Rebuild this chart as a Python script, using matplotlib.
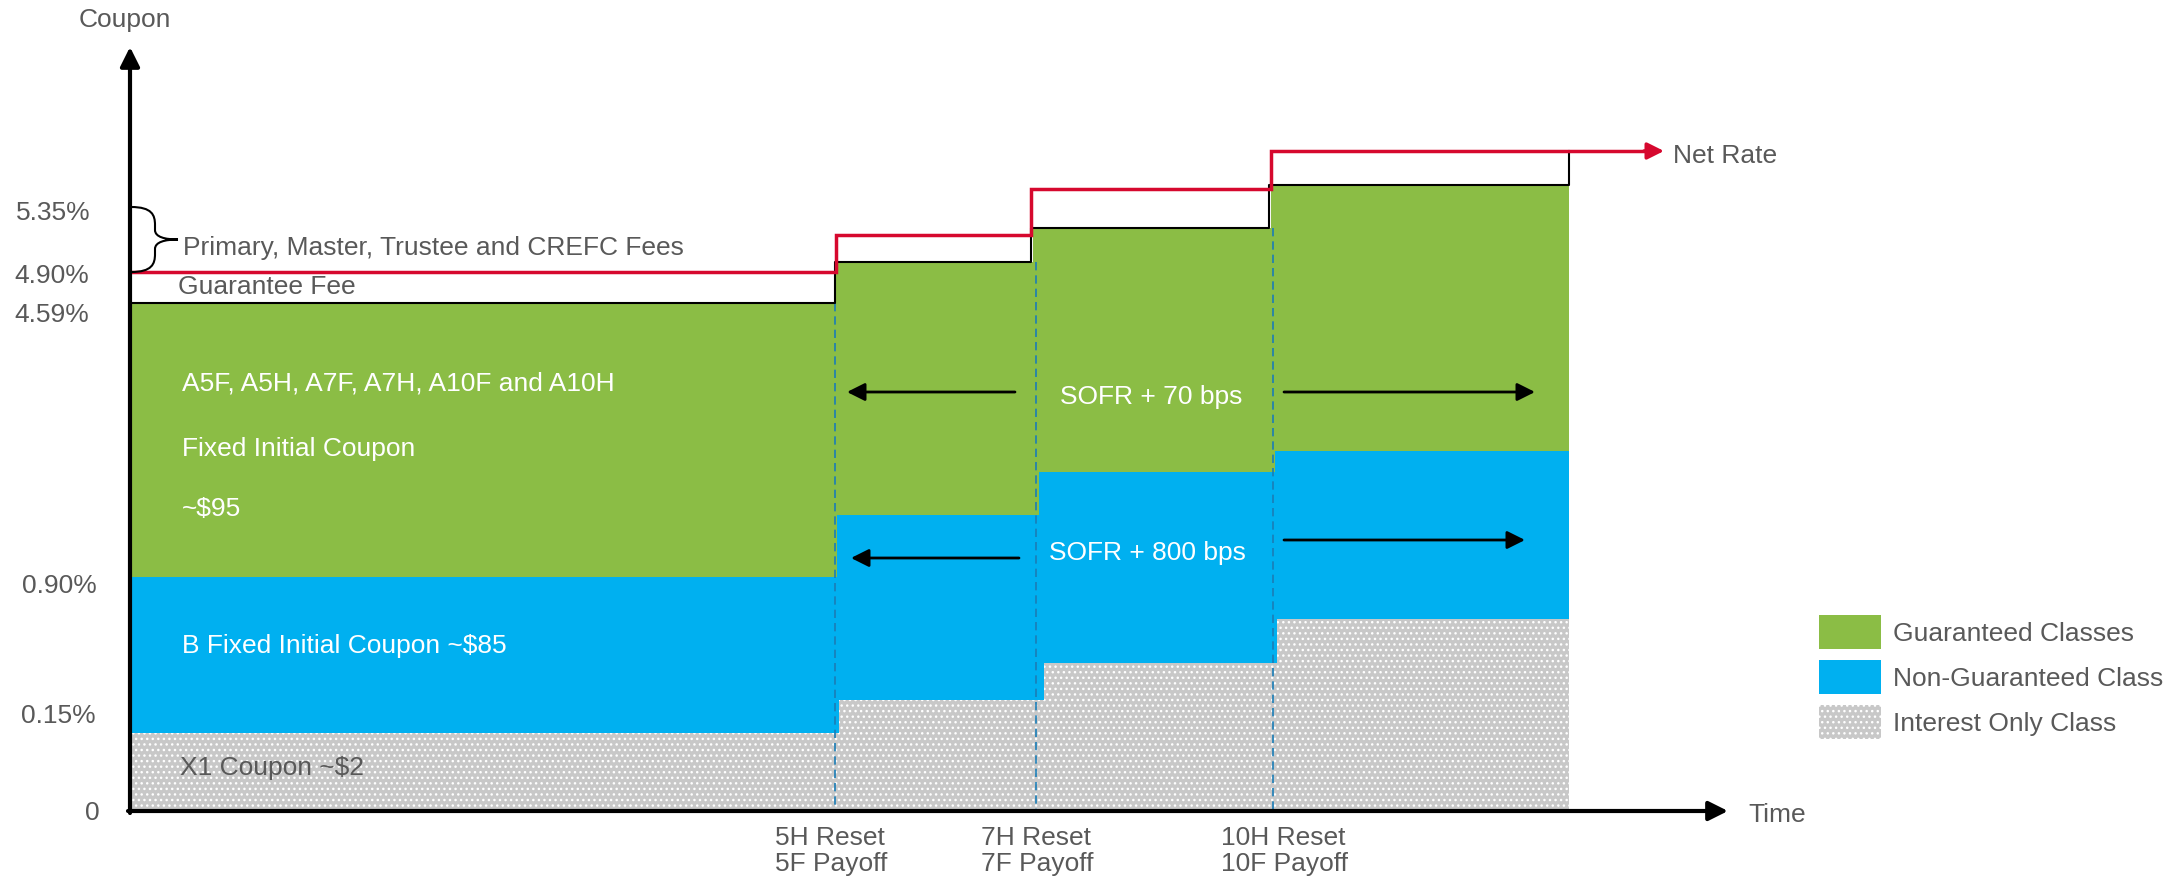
import numpy as np
import matplotlib.pyplot as plt
from matplotlib.path import Path
from matplotlib.patches import PathPatch

plt.rcParams['font.family'] = ['Liberation Sans', 'DejaVu Sans']
plt.rcParams['hatch.linewidth'] = 1.0

GREEN = '#8BBD45'
BLUE = '#00B0F0'
RED = '#D6082E'
TXT = '#595959'

# diagram units = pixels of the slide, y measured downward
axis_x = 130
axis_y = 811

# coupon stack per period: edges along time axis and top of each layer
green_x = [130, 836, 1033, 1271, 1569]
green_top = [302.5, 262, 228, 185]
blue_x = [130, 837, 1039, 1275, 1569]
blue_top = [577, 515, 472, 451]
grey_x = [130, 839, 1044, 1277, 1569]
grey_top = [733, 700, 663, 619]

# gross coupon outline and net rate line
gross_x = [130, 835, 1031, 1269, 1569]
net_x = [130, 836, 1031, 1271, 1664]
net_rate = [272, 235, 189, 151]

reset_x = [835, 1036, 1273]
reset_labels = ['5H Reset\n5F Payoff', '7H Reset\n7F Payoff', '10H Reset\n10F Payoff']
reset_text_x = [775, 981, 1221]

tick_labels = ['5.35%', '4.90%', '4.59%', '0.90%', '0.15%', '0']
tick_y = [213, 276, 315, 586, 716, 813]
tick_x = [53, 51.5, 51.5, 59.5, 58, 92.5]

fig = plt.figure(figsize=(21.82, 8.84), dpi=100)
ax = fig.add_axes([0, 0, 1, 1])
ax.set_xlim(0, 2182)
ax.set_ylim(884, 0)
ax.axis('off')


def stack(edges, tops, **kw):
    edges = np.asarray(edges, float)
    tops = np.asarray(tops, float)
    return ax.bar(edges[:-1], axis_y - tops, width=np.diff(edges), bottom=tops,
                  align='edge', linewidth=0, zorder=1, **kw)


g_bars = stack(green_x, green_top, color=GREEN, label='Guaranteed Classes')
b_bars = stack(blue_x, blue_top, color=BLUE, label='Non-Guaranteed Class')
x_bars = stack(grey_x, grey_top, facecolor='#c8c8c8', edgecolor='white', hatch='...',
               label='Interest Only Class')

# dashed reset markers
ax.vlines(reset_x, green_top[:-1], axis_y, colors='#1B7DB6', linewidth=1.2,
          linestyles=(0, (5, 3)), zorder=3)

# gross coupon outline (black)
ox = list(np.repeat(gross_x, 2)[1:-1]) + [gross_x[-1]]
oy = list(np.repeat(green_top, 2)) + [net_rate[-1]]
ax.plot(ox, oy, color='black', lw=1.5, zorder=4)

# net rate (red) with arrow
rx = np.repeat(net_x, 2)[1:-1].astype(float)
ry = np.repeat(net_rate, 2)
rx[-1] = net_x[-1] - 12
ax.plot(rx, ry, color=RED, lw=2.5, zorder=5, solid_joinstyle='miter')
ax.annotate('', xy=(net_x[-1], net_rate[-1]), xytext=(net_x[-1] - 20, net_rate[-1]),
            arrowprops=dict(arrowstyle='-|>', color=RED, lw=2.5, mutation_scale=25,
                            shrinkA=0, shrinkB=0), zorder=5)

# axes with arrows
ax.annotate('', xy=(axis_x, 47), xytext=(axis_x, axis_y + 2),
            arrowprops=dict(arrowstyle='-|>', color='black', lw=3, mutation_scale=29,
                            shrinkA=0, shrinkB=0), zorder=6)
ax.annotate('', xy=(1728, axis_y), xytext=(axis_x - 2, axis_y),
            arrowprops=dict(arrowstyle='-|>', color='black', lw=3, mutation_scale=29,
                            shrinkA=0, shrinkB=0), zorder=6)

# spread arrows
arrows = [((1015, 392), (847, 392)), ((1284, 392), (1535, 392)),
          ((1019, 558), (851, 558)), ((1284, 540), (1525, 540))]
for tail, tip in arrows:
    ax.annotate('', xy=tip, xytext=tail,
                arrowprops=dict(arrowstyle='-|>', color='black', lw=2, mutation_scale=27,
                                shrinkA=0, shrinkB=0), zorder=6)

# curly brace for servicing fees
verts = [(131, 207), (152, 207), (155, 215), (155, 225),
         (155, 230),
         (155, 237), (165, 239.5), (178, 239.5),
         (165, 239.5), (155, 242), (155, 249),
         (155, 254),
         (155, 264), (152, 272), (131, 272)]
codes = [Path.MOVETO, Path.CURVE4, Path.CURVE4, Path.CURVE4,
         Path.LINETO,
         Path.CURVE4, Path.CURVE4, Path.CURVE4,
         Path.CURVE4, Path.CURVE4, Path.CURVE4,
         Path.LINETO,
         Path.CURVE4, Path.CURVE4, Path.CURVE4]
ax.add_patch(PathPatch(Path(verts, codes), facecolor='none', edgecolor='black', lw=1.5, zorder=6))

fs = 19
for lab, x, y in zip(tick_labels, tick_x, tick_y):
    ax.text(x, y, lab, ha='center', va='center', fontsize=fs, color=TXT)

ax.text(125, 20, 'Coupon', ha='center', va='center', fontsize=fs, color=TXT)
ax.text(1748, 815, 'Time', ha='left', va='center', fontsize=fs, color=TXT)
ax.text(1673, 156, 'Net Rate', ha='left', va='center', fontsize=fs, color=TXT)
ax.text(183, 248, 'Primary, Master, Trustee and CREFC Fees', ha='left', va='center',
        fontsize=fs, color=TXT)
ax.text(178, 287, 'Guarantee Fee', ha='left', va='center', fontsize=fs, color=TXT)
ax.text(182, 384, 'A5F, A5H, A7F, A7H, A10F and A10H', ha='left', va='center',
        fontsize=fs, color='white')
ax.text(182, 449, 'Fixed Initial Coupon', ha='left', va='center', fontsize=fs, color='white')
ax.text(182, 509, '~$95', ha='left', va='center', fontsize=fs, color='white')
ax.text(182, 646, 'B Fixed Initial Coupon ~$85', ha='left', va='center', fontsize=fs,
        color='white')
ax.text(180, 768, 'X1 Coupon ~$2', ha='left', va='center', fontsize=fs, color=TXT)
ax.text(1151, 397, 'SOFR + 70 bps', ha='center', va='center', fontsize=fs, color='white')
ax.text(1147, 553, 'SOFR + 800 bps', ha='center', va='center', fontsize=fs, color='white')

for lab, x in zip(reset_labels, reset_text_x):
    ax.text(x, 851, lab, ha='left', va='center', fontsize=fs, color=TXT, linespacing=1.15)

leg = ax.legend(handles=[g_bars, b_bars, x_bars], loc='upper left',
                bbox_to_anchor=(1819, 615), bbox_transform=ax.transData,
                frameon=False, fontsize=fs, handlelength=2.35, handleheight=1.61,
                handletextpad=0.45, labelspacing=0.42, borderpad=0, borderaxespad=0)
for t in leg.get_texts():
    t.set_color(TXT)

fig.savefig('out.png', dpi=100)
